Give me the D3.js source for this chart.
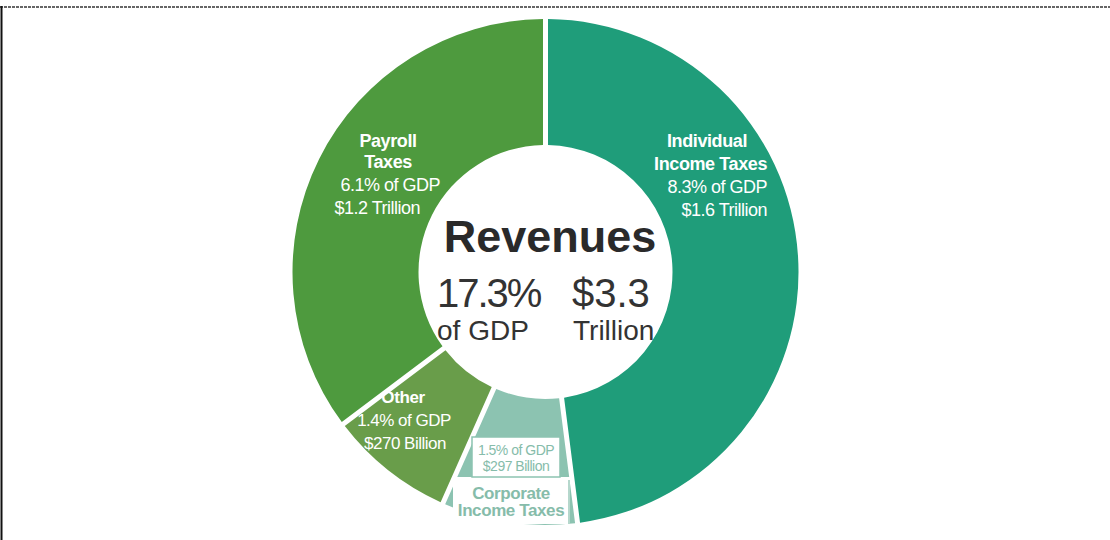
<!DOCTYPE html>
<html>
<head>
<meta charset="utf-8">
<script src="https://cdn.jsdelivr.net/npm/d3@7"></script>
<style>
  html, body { margin: 0; padding: 0; background: #fff; }
  svg { display: block; }
  text { font-family: "Liberation Sans", Arial, sans-serif; }
</style>
</head>
<body>
<svg id="chart" width="1110" height="540"></svg>
<script>
// Federal revenue sources, share of GDP
const categories = ["Individual Income Taxes", "Corporate Income Taxes", "Other", "Payroll Taxes"];
const gdpShare = [8.3, 1.5, 1.4, 6.1];
const nameLines = [["Individual", "Income Taxes"], ["Corporate", "Income Taxes"], ["Other"], ["Payroll", "Taxes"]];
const shareLabels = ["8.3% of GDP", "1.5% of GDP", "1.4% of GDP", "6.1% of GDP"];
const dollarLabels = ["$1.6 Trillion", "$297 Billion", "$270 Billion", "$1.2 Trillion"];
const totalShare = "17.3%";
const totalDollars = "$3.3";

const W = 1110, H = 540;
const cx = 545.5, cy = 272;
const outerR = 253, innerR = 127;
const colors = ["#1f9d7a", "#8cc3b1", "#699d4a", "#4e9a3e"];

const svg = d3.select("#chart");

// frame: dotted top rule and solid left rule
svg.append("line")
  .attr("x1", 0).attr("x2", W).attr("y1", 7).attr("y2", 7)
  .attr("stroke", "#666").attr("stroke-width", 2).attr("stroke-dasharray", "3,1");
svg.append("line")
  .attr("x1", 1.5).attr("x2", 1.5).attr("y1", 6).attr("y2", H)
  .attr("stroke", "#111").attr("stroke-width", 2);

const pie = d3.pie().sort(null).value(d => d)(gdpShare);
const gap = 5;
const arc = d3.arc()
  .innerRadius(innerR).outerRadius(outerR)
  .padRadius(outerR).padAngle(gap / outerR);

const g = svg.append("g").attr("transform", `translate(${cx},${cy})`);
g.selectAll("path.slice")
  .data(pie)
  .join("path")
  .attr("class", "slice")
  .attr("d", arc)
  .attr("fill", (d, i) => colors[i]);

// label placement, relative to the chart centre
// each line: [text, x, baseline, anchor, weight, size]
const labelLayout = {
  "Individual Income Taxes": { color: "#fff", lines: [
    [0, 0, 747 - cx, 147 - cy, "end", "bold", 18],
    [0, 1, 767 - cx, 170 - cy, "end", "bold", 18],
    [1, 0, 767 - cx, 193 - cy, "end", "normal", 18],
    [2, 0, 767 - cx, 216 - cy, "end", "normal", 18]
  ]},
  "Payroll Taxes": { color: "#fff", lines: [
    [0, 0, 388 - cx, 147 - cy, "middle", "bold", 18],
    [0, 1, 388 - cx, 168 - cy, "middle", "bold", 18],
    [1, 0, 440 - cx, 191 - cy, "end", "normal", 18],
    [2, 0, 420 - cx, 214 - cy, "end", "normal", 18]
  ]},
  "Other": { color: "#fff", lines: [
    [0, 0, 403 - cx, 403 - cy, "middle", "bold", 17],
    [1, 0, 404 - cx, 426 - cy, "middle", "normal", 17],
    [2, 0, 405 - cx, 449 - cy, "middle", "normal", 17]
  ]},
  "Corporate Income Taxes": { color: "#86bcaa", lines: [
    [1, 0, 516 - cx, 455 - cy, "middle", "normal", 14],
    [2, 0, 516 - cx, 471 - cy, "middle", "normal", 14],
    [0, 0, 511 - cx, 499 - cy, "middle", "bold", 17],
    [0, 1, 511 - cx, 516 - cy, "middle", "bold", 17]
  ]}
};

// white panels that hold the corporate tax label inside its slice
g.append("rect")
  .attr("x", 453 - cx).attr("y", 477 - cy)
  .attr("width", 117).attr("height", 47)
  .attr("fill", "#fff");
g.append("line")
  .attr("x1", 569 - cx).attr("x2", 569 - cx)
  .attr("y1", 480 - cy).attr("y2", 524 - cy)
  .attr("stroke", "#9ccabb").attr("stroke-width", 1.5);
g.append("rect")
  .attr("x", 472 - cx).attr("y", 437 - cy)
  .attr("width", 88).attr("height", 40)
  .attr("fill", "#fff").attr("stroke", "#8cc3b1").attr("stroke-width", 1.5);

categories.forEach((cat, i) => {
  const lay = labelLayout[cat];
  lay.lines.forEach(([kind, idx, x, y, anchor, weight, size]) => {
    const str = kind === 0 ? nameLines[i][idx] : kind === 1 ? shareLabels[i] : dollarLabels[i];
    g.append("text")
      .attr("x", x).attr("y", y)
      .attr("text-anchor", anchor)
      .attr("font-weight", weight)
      .attr("font-size", size)
      .attr("letter-spacing", weight === "bold" ? -0.4 : -0.5)
      .attr("fill", lay.color)
      .text(str);
  });
});

// centre summary
const centre = g.append("g");
centre.append("text")
  .attr("x", 550 - cx).attr("y", 252 - cy)
  .attr("text-anchor", "middle")
  .attr("font-size", 45).attr("font-weight", "bold")
  .attr("fill", "#2a2a2a")
  .text("Revenues");
centre.append("text")
  .attr("x", 437 - cx).attr("y", 307 - cy)
  .attr("font-size", 40).attr("letter-spacing", -2)
  .attr("fill", "#333")
  .text(totalShare);
centre.append("text")
  .attr("x", 572 - cx).attr("y", 307 - cy)
  .attr("font-size", 40)
  .attr("fill", "#333")
  .text(totalDollars);
centre.append("text")
  .attr("x", 437 - cx).attr("y", 340 - cy)
  .attr("font-size", 28)
  .attr("fill", "#333")
  .text("of GDP");
centre.append("text")
  .attr("x", 573 - cx).attr("y", 340 - cy)
  .attr("font-size", 28)
  .attr("fill", "#333")
  .text("Trillion");
</script>
</body>
</html>
